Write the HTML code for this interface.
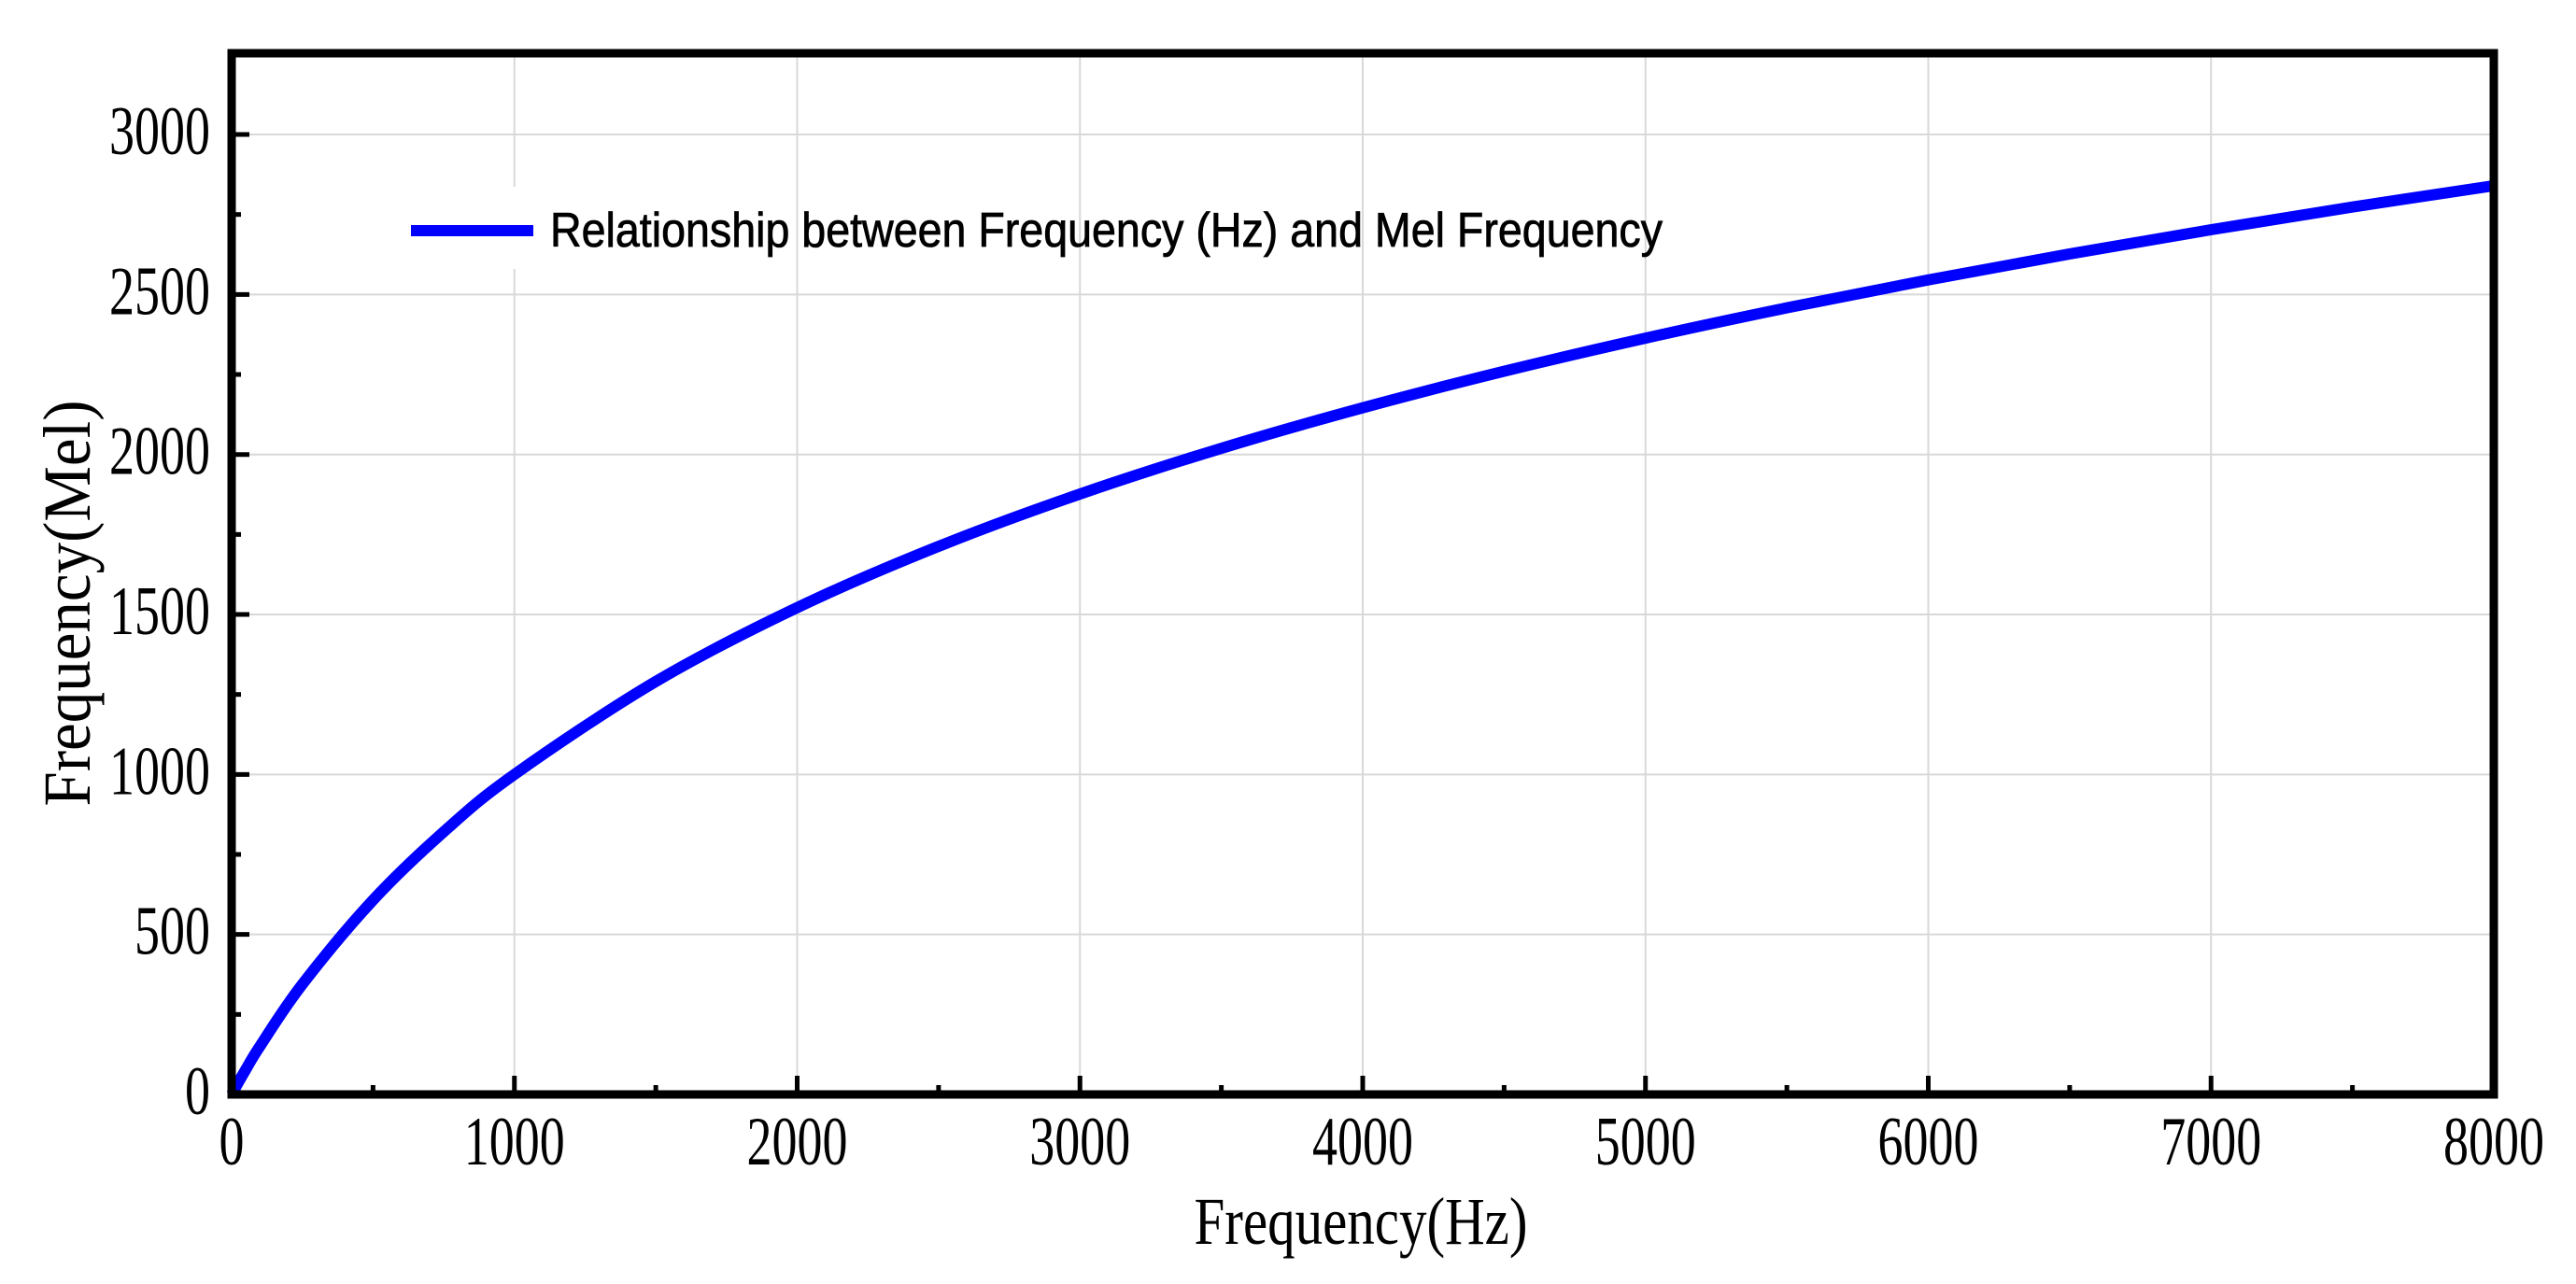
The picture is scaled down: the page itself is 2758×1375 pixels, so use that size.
<!DOCTYPE html>
<html><head><meta charset="utf-8"><style>
html,body{margin:0;padding:0;background:#fff;}
svg{display:block;}
</style></head><body>
<svg id="chart" width="2758" height="1375" viewBox="0 0 2758 1375" xmlns="http://www.w3.org/2000/svg">
<g id="grid"></g>
<rect x="425" y="200" width="160" height="88" fill="#fff"/>
<g id="series"></g>
<g id="axes"></g>
<g>
<line x1="440" y1="247" x2="571" y2="247" stroke="#0000ff" stroke-width="12"/>
<text x="589" y="264" font-family="Liberation Sans, sans-serif" font-size="52" textLength="1191" lengthAdjust="spacingAndGlyphs" fill="#000" stroke="#000" stroke-width="0.8">Relationship between Frequency (Hz) and Mel Frequency</text>
</g>
<text x="1457" y="1332" text-anchor="middle" font-family="Liberation Serif, serif" font-size="72" textLength="357" lengthAdjust="spacingAndGlyphs" fill="#000">Frequency(Hz)</text>
<text transform="translate(96,646) rotate(-90)" text-anchor="middle" font-family="Liberation Serif, serif" font-size="72" textLength="435" lengthAdjust="spacingAndGlyphs" fill="#000">Frequency(Mel)</text>
</svg>
<script>
const freqHz = [0, 25, 50, 100, 250, 500, 750, 1000, 1500, 2000, 2500, 3000, 3500, 4000, 4500, 5000, 5500, 6000, 6500, 7000, 7500, 8000];
const melValues = [0, 39.5, 77.7, 150.5, 344.2, 607.4, 820.7, 1000.0, 1290.5, 1521.4, 1712.8, 1876.4, 2019.3, 2146.0, 2260.0, 2363.5, 2458.2, 2545.6, 2626.7, 2702.4, 2773.3, 2840.0];
const xTicks = [0, 1000, 2000, 3000, 4000, 5000, 6000, 7000, 8000];
const xTickLabels = ["0", "1000", "2000", "3000", "4000", "5000", "6000", "7000", "8000"];
const yTicks = [0, 500, 1000, 1500, 2000, 2500, 3000];
const yTickLabels = ["0", "500", "1000", "1500", "2000", "2500", "3000"];

const NS = "http://www.w3.org/2000/svg";
const X0 = 248, X1 = 2670, Y0 = 1172, YTOP = 57;
const xMin = 0, xMax = 8000, yMin = 0, yMax = 3254;
function xs(v){ return X0 + (v - xMin) / (xMax - xMin) * (X1 - X0); }
function ys(v){ return Y0 - (v - yMin) / (yMax - yMin) * (Y0 - YTOP); }
function mk(tag, attrs, parent){
  const e = document.createElementNS(NS, tag);
  for (const k in attrs) e.setAttribute(k, attrs[k]);
  parent.appendChild(e);
  return e;
}
const grid = document.getElementById('grid');
const axes = document.getElementById('axes');
const series = document.getElementById('series');

xTicks.forEach((t, i) => {
  if (t > xMin && t < xMax) {
    const g = mk('line', {x1: xs(t), x2: xs(t), y1: YTOP, y2: Y0, stroke: '#d8d8d8', 'stroke-width': 2}, grid);
    
    
  }
  const tk = mk('line', {x1: xs(t), x2: xs(t), y1: Y0, y2: Y0 - 20, stroke: '#000', 'stroke-width': 5}, axes);
  
  
  const lb = mk('text', {x: xs(t), y: 1247, 'text-anchor': 'middle', 'font-family': 'Liberation Serif, serif', 'font-size': 74, textLength: xTickLabels[i].length * 27, lengthAdjust: 'spacingAndGlyphs', fill: '#000'}, axes);
  lb.textContent = xTickLabels[i];
  
  
});
for (let i = 0; i < xTicks.length - 1; i++) {
  const m = (xTicks[i] + xTicks[i + 1]) / 2;
  const tk = mk('line', {x1: xs(m), x2: xs(m), y1: Y0, y2: Y0 - 10, stroke: '#000', 'stroke-width': 5}, axes);
  
  
}
yTicks.forEach((t, i) => {
  if (t > yMin) {
    const g = mk('line', {x1: X0, x2: X1, y1: ys(t), y2: ys(t), stroke: '#d8d8d8', 'stroke-width': 2}, grid);
    
    
  }
  const tk = mk('line', {x1: X0, x2: X0 + 19, y1: ys(t), y2: ys(t), stroke: '#000', 'stroke-width': 5}, axes);
  
  
  const lb = mk('text', {x: 225, y: ys(t) + 21, 'text-anchor': 'end', 'font-family': 'Liberation Serif, serif', 'font-size': 74, textLength: yTickLabels[i].length * 27, lengthAdjust: 'spacingAndGlyphs', fill: '#000'}, axes);
  lb.textContent = yTickLabels[i];
  
  
});
for (let i = 0; i < yTicks.length; i++) {
  const m = yTicks[i] + 250;
  if (m < yMax) {
    const tk = mk('line', {x1: X0, x2: X0 + 10, y1: ys(m), y2: ys(m), stroke: '#000', 'stroke-width': 5}, axes);
    
    
  }
}
const frame = mk('rect', {x: X0, y: YTOP, width: X1 - X0, height: Y0 - YTOP, fill: 'none', stroke: '#000', 'stroke-width': 9}, axes);



const pts = freqHz.map((f, i) => [xs(f), ys(melValues[i])]);
let d = 'M' + pts[0][0] + ',' + pts[0][1];
for (let i = 0; i < pts.length - 1; i++) {
  const p0 = pts[Math.max(0, i - 1)], p1 = pts[i], p2 = pts[i + 1], p3 = pts[Math.min(pts.length - 1, i + 2)];
  const c1 = [p1[0] + (p2[0] - p0[0]) / 6, p1[1] + (p2[1] - p0[1]) / 6];
  const c2 = [p2[0] - (p3[0] - p1[0]) / 6, p2[1] - (p3[1] - p1[1]) / 6];
  d += ' C' + c1[0] + ',' + c1[1] + ' ' + c2[0] + ',' + c2[1] + ' ' + p2[0] + ',' + p2[1];
}
const line = mk('path', {d: d, fill: 'none', stroke: '#0000ff', 'stroke-width': 12, 'stroke-linejoin': 'round'}, series);


</script>
</body></html>
